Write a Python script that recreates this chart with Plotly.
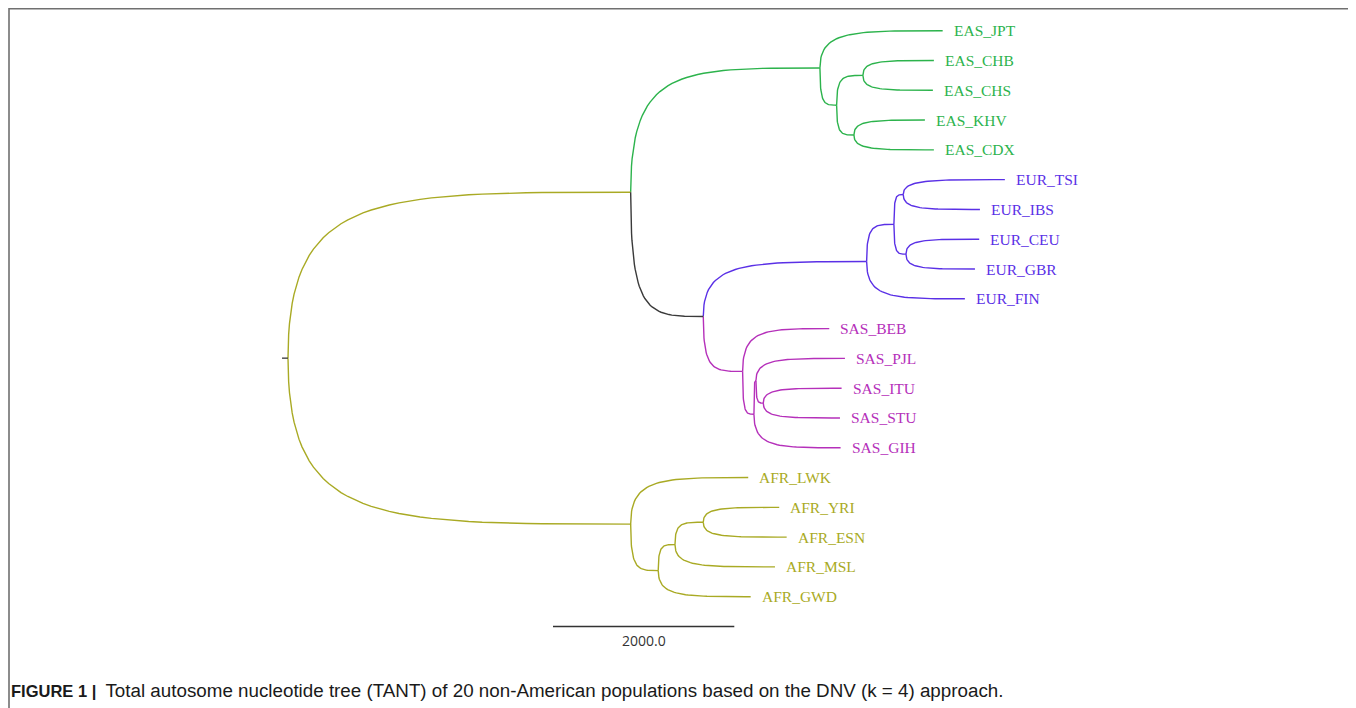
import plotly.graph_objects as go

# ---------------- data ----------------
# Tree written in pre-order, children listed top -> bottom.
NODES = [
    "root", "nA", "nEAS", "EAS_JPT", "nEAS2", "nCHB_CHS", "EAS_CHB", "EAS_CHS",
    "nKHV_CDX", "EAS_KHV", "EAS_CDX",
    "nEUR_SAS", "nEUR", "nEUR4", "nTSI_IBS", "EUR_TSI", "EUR_IBS", "nCEU_GBR",
    "EUR_CEU", "EUR_GBR", "EUR_FIN",
    "nSAS", "SAS_BEB", "nSAS2", "nSAS3", "SAS_PJL", "nITU_STU", "SAS_ITU", "SAS_STU", "SAS_GIH",
    "nAFR", "AFR_LWK", "nAFR2", "nAFR3", "nYRI_ESN", "AFR_YRI", "AFR_ESN", "AFR_MSL", "AFR_GWD",
]
PARENTS = [
    None, "root", "nA", "nEAS", "nEAS", "nEAS2", "nCHB_CHS", "nCHB_CHS",
    "nEAS2", "nKHV_CDX", "nKHV_CDX",
    "nA", "nEUR_SAS", "nEUR", "nEUR4", "nTSI_IBS", "nTSI_IBS", "nEUR4",
    "nCEU_GBR", "nCEU_GBR", "nEUR",
    "nEUR_SAS", "nSAS", "nSAS", "nSAS2", "nSAS3", "nSAS3", "nITU_STU", "nITU_STU", "nSAS2",
    "root", "nAFR", "nAFR", "nAFR2", "nAFR3", "nYRI_ESN", "nYRI_ESN", "nAFR3", "nAFR2",
]
BRANCH_LENGTHS = [
    0, 3780, 2088, 1354, 184, 290, 783, 772,
    191, 783, 882,
    801, 1802, 301, 103, 1121, 846, 133,
    808, 761, 1084,
    434, 956, 125, 22, 982, 81, 864, 846, 956,
    3780, 1297, 304, 185, 312, 838, 920, 1103, 1020,
]
BRANCH_GROUPS = [
    None, "AFR", "EAS", "EAS", "EAS", "EAS", "EAS", "EAS",
    "EAS", "EAS", "EAS",
    "STEM", "EUR", "EUR", "EUR", "EUR", "EUR", "EUR",
    "EUR", "EUR", "EUR",
    "SAS", "SAS", "SAS", "SAS", "SAS", "SAS", "SAS", "SAS", "SAS",
    "AFR", "AFR", "AFR", "AFR", "AFR", "AFR", "AFR", "AFR", "AFR",
]
GROUP_COLORS = {"EAS": "#2cb34c", "EUR": "#5a30e6", "SAS": "#b530ba",
                "AFR": "#a9aa24", "STEM": "#3a3a3a"}
ROOT_STUB = 66
SCALE_BAR_LENGTH = 2000.0
SCALE_BAR_LABEL = "2000.0"
CAPTION_BOLD = "FIGURE 1 |"
CAPTION_TEXT = "Total autosome nucleotide tree (TANT) of 20 non-American populations based on the DNV (k = 4) approach."

# ---------------- geometry ----------------
PAGE_OFF = 8                      # browser body margin
W, H = 1356 - PAGE_OFF, 708 - PAGE_OFF
UNITS_PER_PX = SCALE_BAR_LENGTH / 181.3
ROOT_PX = 288                     # screen px of root
ROW_PX = 29.79
FIRST_ROW_PX = 30.7               # screen px of first tip

children = {n: [] for n in NODES}
for n, p in zip(NODES, PARENTS):
    if p is not None:
        children[p].append(n)

depth = {}
for n, p, bl in zip(NODES, PARENTS, BRANCH_LENGTHS):
    depth[n] = 0.0 if p is None else depth[p] + bl

ypos = {}
tip_counter = 0
for n in NODES:
    if not children[n]:
        ypos[n] = tip_counter
        tip_counter += 1
for n in reversed(NODES):
    if children[n]:
        ypos[n] = sum(ypos[c] for c in children[n]) / len(children[n])


def bezier(x0, y0, x1, y1, k=40):
    p1 = (x0, y1)
    p2 = (x0 + 0.25 * (x1 - x0), y1)
    xs, ys = [], []
    for i in range(k + 1):
        t = i / k
        a, b, c, d = (1 - t) ** 3, 3 * (1 - t) ** 2 * t, 3 * (1 - t) * t ** 2, t ** 3
        xs.append(a * x0 + b * p1[0] + c * p2[0] + d * x1)
        ys.append(a * y0 + b * p1[1] + c * p2[1] + d * y1)
    return xs, ys


fig = go.Figure()
paths = {g: ([], []) for g in GROUP_COLORS}
for n, p, g in zip(NODES, PARENTS, BRANCH_GROUPS):
    if p is None:
        continue
    xs, ys = bezier(depth[p], ypos[p], depth[n], ypos[n])
    paths[g][0].extend(xs + [None])
    paths[g][1].extend(ys + [None])

for g, (xs, ys) in paths.items():
    fig.add_trace(go.Scatter(x=xs, y=ys, mode="lines",
                             line=dict(color=GROUP_COLORS[g], width=1.4),
                             hoverinfo="skip", showlegend=False))

# root stub
fig.add_trace(go.Scatter(x=[-ROOT_STUB, 0], y=[ypos["root"]] * 2, mode="lines",
                         line=dict(color="#444444", width=1.4),
                         hoverinfo="skip", showlegend=False))

# tip labels
tip_group = dict(zip(NODES, BRANCH_GROUPS))
for n in NODES:
    if children[n]:
        continue
    fig.add_annotation(x=depth[n], y=ypos[n], text=n, showarrow=False,
                       xanchor="left", yanchor="middle", xshift=9, yshift=0,
                       font=dict(family="Liberation Serif", size=15.5,
                                 color=GROUP_COLORS[tip_group[n]]))

# scale bar
sb_x0 = (553 - ROOT_PX) * UNITS_PER_PX
sb_y = tip_counter
fig.add_trace(go.Scatter(x=[sb_x0, sb_x0 + SCALE_BAR_LENGTH], y=[sb_y, sb_y], mode="lines",
                         line=dict(color="#333333", width=1.4),
                         hoverinfo="skip", showlegend=False))
fig.add_annotation(x=sb_x0 + SCALE_BAR_LENGTH / 2, y=sb_y, text=SCALE_BAR_LABEL,
                   showarrow=False, yanchor="top", yshift=-2,
                   font=dict(family="Open Sans", size=14, color="#333333"))

# caption
fig.add_annotation(xref="paper", yref="paper", x=(9 - PAGE_OFF) / W, y=1 - (690 - PAGE_OFF) / H,
                   xanchor="left", yanchor="middle", showarrow=False,
                   text="<span style='font-size:16.5px'><b>" + CAPTION_BOLD + "</b>&nbsp;&nbsp;</span>"
                        + CAPTION_TEXT,
                   font=dict(family="Liberation Sans", size=18.8, color="#1a1a1a"))

# frame (left, top, right)
xl, xr, yt = 1 / W, (1353 - PAGE_OFF) / W, 1 - 0.75 / H
fig.add_shape(type="path", xref="paper", yref="paper",
              path=f"M {xl},-0.05 L {xl},{yt} L {xr},{yt} L {xr},-0.05",
              line=dict(color="#707070", width=1.6))

x_range = [(PAGE_OFF - ROOT_PX) * UNITS_PER_PX, (1356 - ROOT_PX) * UNITS_PER_PX]
y_range = [(708 - FIRST_ROW_PX) / ROW_PX, (PAGE_OFF - FIRST_ROW_PX) / ROW_PX]
fig.update_layout(width=W, height=H, autosize=False,
                  margin=dict(l=0, r=0, t=0, b=0),
                  paper_bgcolor="white", plot_bgcolor="white",
                  xaxis=dict(visible=False, range=x_range, fixedrange=True),
                  yaxis=dict(visible=False, range=y_range, fixedrange=True))

fig.write_html("out.html", config={"displayModeBar": False})
